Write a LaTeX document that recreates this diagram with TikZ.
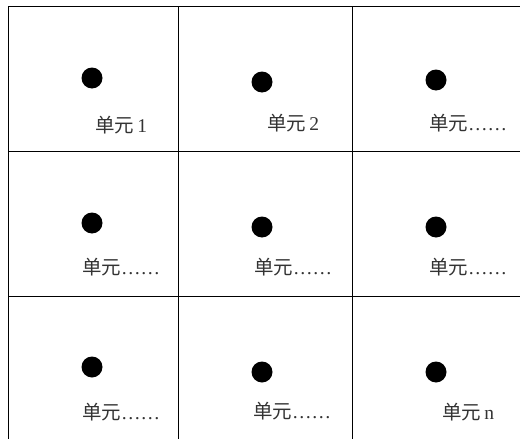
\documentclass[tikz,border=0pt]{standalone}
\usepackage{fontspec}
\setmainfont{Liberation Serif}
\newfontfamily\cjk{Noto Sans CJK SC}
\begin{document}
\begin{tikzpicture}[x=1pt,y=-1pt,
  gridline/.style={line width=0.9pt,black},
  cellpt/.style={circle,fill=black,inner sep=0pt,minimum size=21pt},
  celllbl/.style={anchor=base,inner sep=0pt,font=\fontsize{19.5}{22}\selectfont,text=black!80}]
\useasboundingbox (0,0) rectangle (520,439);
% grid
\draw[gridline] (8,439) -- (8,6) -- (520,6);
\draw[gridline] (178,6) -- (178,439);
\draw[gridline] (352,6) -- (352,439);
\draw[gridline] (8,151) -- (520,151);
\draw[gridline] (8,296) -- (520,296);
% dots
\node[cellpt] (d11) at (92,78) {};
\node[cellpt] (d12) at (262,82) {};
\node[cellpt] (d13) at (436,80) {};
\node[cellpt] (d21) at (92,223) {};
\node[cellpt] (d22) at (262,227) {};
\node[cellpt] (d23) at (436,227) {};
\node[cellpt] (d31) at (92,367) {};
\node[cellpt] (d32) at (262,372) {};
\node[cellpt] (d33) at (436,372) {};
% labels
\node[celllbl] (l11) at (121,132) {{\cjk 单元}\,1};
\node[celllbl] (l12) at (293,130) {{\cjk 单元}\,2};
\node[celllbl] (l13) at (468,130) {{\cjk 单元}……};
\node[celllbl] (l21) at (121,274) {{\cjk 单元}……};
\node[celllbl] (l22) at (293,274) {{\cjk 单元}……};
\node[celllbl] (l23) at (468,274) {{\cjk 单元}……};
\node[celllbl] (l31) at (121,419) {{\cjk 单元}……};
\node[celllbl] (l32) at (292,418) {{\cjk 单元}……};
\node[celllbl] (l33) at (468,419) {{\cjk 单元}\,n};
\end{tikzpicture}
\end{document}
